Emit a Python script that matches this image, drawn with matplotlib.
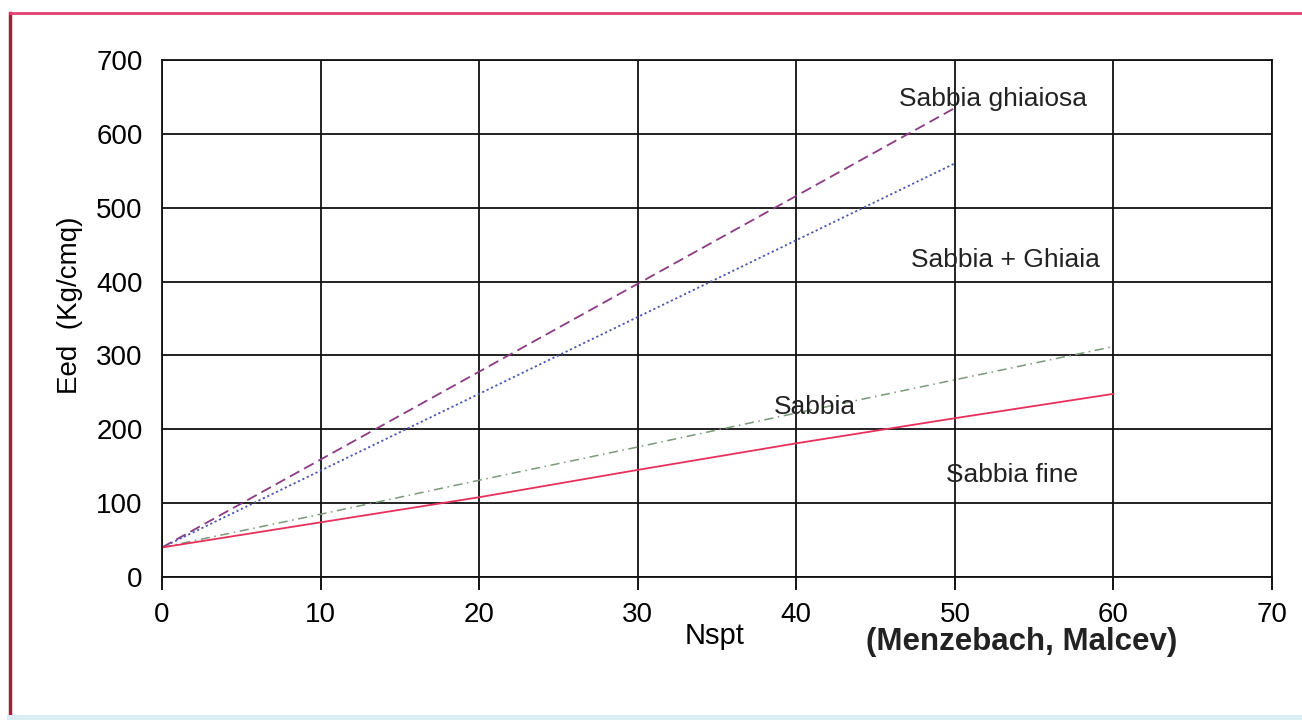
#!/usr/bin/env python3
"""
Eed vs Nspt correlation chart (Menzebach, Malcev)
"""

import matplotlib
matplotlib.use('Agg')
import matplotlib.pyplot as plt
from matplotlib.lines import Line2D

plt.rcParams['font.family'] = ['Liberation Sans', 'DejaVu Sans']

# Data
nspt_50 = [0, 10, 20, 30, 40, 50]
nspt_60 = [0, 10, 20, 30, 40, 50, 60]
eed_ghiaiosa = [40, 159, 278, 397, 516, 635]
eed_sabbia_ghiaia = [40, 144, 248, 352, 456, 560]
eed_sabbia = [40, 85, 131, 176, 222, 267, 312]
eed_sabbia_fine = [40, 74, 108, 145, 181, 215, 248]

labels = ['Sabbia ghiaiosa', 'Sabbia + Ghiaia', 'Sabbia', 'Sabbia fine']
label_x = [52.4, 53.2, 41.2, 53.6]
label_y = [647, 429, 230, 138]

x_ticks = [0, 10, 20, 30, 40, 50, 60, 70]
y_ticks = [0, 100, 200, 300, 400, 500, 600, 700]


def main():
    fig = plt.figure(figsize=(13.02, 7.2), dpi=100)
    ax = fig.add_axes([0.1244, 0.1986, 0.8526, 0.7181])

    ax.plot(nspt_50, eed_ghiaiosa, color='#8c3a85', linestyle=(0, (6, 3)), linewidth=1.3)
    ax.plot(nspt_50, eed_sabbia_ghiaia, color='#4a55b0', linestyle=(0, (1.2, 1.5)), linewidth=1.3)
    ax.plot(nspt_60, eed_sabbia, color='#7a9a7a', linestyle=(0, (6, 3, 1, 3)), linewidth=1.1)
    ax.plot(nspt_60, eed_sabbia_fine, color='#e8305a', linestyle='-', linewidth=1.3)

    for txt, lx, ly in zip(labels, label_x, label_y):
        ax.text(lx, ly, txt, fontsize=19, ha='center', va='center', color='#222222')

    ax.set_xlim(0, 70)
    ax.set_ylim(0, 700)
    ax.set_xticks(x_ticks)
    ax.set_yticks(y_ticks)
    ax.grid(True, color='#111111', linewidth=1.3)
    ax.set_axisbelow(True)
    for sp in ax.spines.values():
        sp.set_color('#111111')
        sp.set_linewidth(1.3)
    ax.tick_params(axis='x', direction='out', length=9, width=1.3, labelsize=20, pad=9)
    ax.tick_params(axis='y', length=0, labelsize=20, pad=14)

    ax.set_ylabel('Eed  (Kg/cmq)', fontsize=20)
    ax.yaxis.set_label_coords(-0.071, 0.526)
    fig.text(0.549, 0.116, 'Nspt', fontsize=21, ha='center', va='center')
    fig.text(0.785, 0.109, '(Menzebach, Malcev)', fontsize=22.5, fontweight='bold',
             ha='center', va='center', color='#222222')

    # scanned page frame
    fig.add_artist(Line2D([0.008, 0.008], [0.0, 0.982], transform=fig.transFigure,
                          color='#a0203a', linewidth=2.5))
    fig.add_artist(Line2D([0.008, 1.0], [0.982, 0.982], transform=fig.transFigure,
                          color='#e04070', linewidth=2))
    fig.add_artist(Line2D([0.008, 1.0], [0.003, 0.003], transform=fig.transFigure,
                          color='#d8eef2', linewidth=5))

    fig.savefig('out.png', dpi=100)
    plt.close(fig)


if __name__ == "__main__":
    main()
